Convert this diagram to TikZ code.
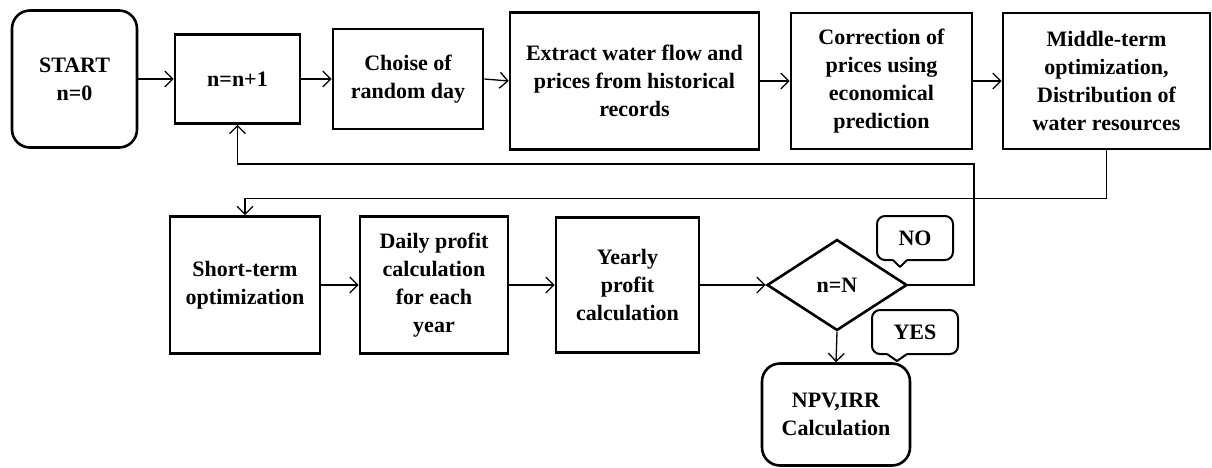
\documentclass[tikz,border=0pt]{standalone}
\usepackage{fontspec}
\setmainfont{Liberation Serif}
\usetikzlibrary{arrows.meta,shapes.geometric}
\begin{document}
\begin{tikzpicture}[x=1pt,y=-1pt,
  box/.style={draw, line width=2.6pt, align=center, inner sep=0pt,
    font=\fontsize{22}{28}\selectfont\bfseries},
  rbox/.style={box, rounded corners=18pt},
  arr/.style={-{Straight Barb[length=8pt,width=16pt,line width=1.3pt]}, line width=1.3pt},
  callout/.style={draw, line width=2pt},
  ctext/.style={font=\fontsize{22}{28}\selectfont\bfseries, inner sep=0pt}]
\useasboundingbox (0,0) rectangle (1212,468);
% top row
\node[rbox, minimum width=125pt, minimum height=137pt] (start) at (74.5,79) {START\\n=0};
\node[box, minimum width=125pt, minimum height=89pt] (n1) at (237.5,79) {n=n+1};
\node[box, minimum width=150pt, minimum height=100pt] (rand) at (408,79) {Choise of\\random day};
\node[box, minimum width=249pt, minimum height=137pt] (extr) at (634.5,81) {Extract water flow and\\prices from historical\\records};
\node[box, minimum width=181pt, minimum height=136pt] (corr) at (881.5,81) {Correction of\\prices using\\economical\\prediction};
\node[box, minimum width=207pt, minimum height=136pt] (mid) at (1106.5,81) {Middle-term\\optimization,\\Distribution of\\water resources};
% second row
\node[box, minimum width=150pt, minimum height=137pt] (short) at (245,285) {Short-term\\optimization};
\node[box, minimum width=148pt, minimum height=137pt] (daily) at (434,285) {Daily profit\\calculation\\for each\\year};
\node[box, minimum width=143pt, minimum height=135pt] (year) at (627.5,285) {Yearly\\profit\\calculation};
\node[box, diamond, aspect=1.54, minimum width=140pt, minimum height=91pt] (dec) at (837,285) {n=N};
\node[rbox, minimum width=148pt, minimum height=102pt] (npv) at (836,414.5) {NPV,IRR\\Calculation};
% callouts
\draw[callout, rounded corners=8pt] (893,260) -- (877,260) -- (877,216) -- (953,216) -- (953,260) -- (907,260);
\draw[callout, line join=round] (907,260) -- (900,267) -- (893,260);
\node[ctext] (no) at (915,238) {NO};
\draw[callout, rounded corners=8pt] (887,354) -- (872,354) -- (872,310) -- (958,310) -- (958,354) -- (907,354);
\draw[callout, line join=round] (907,354) -- (897,361) -- (887,354);
\node[ctext] (yes) at (915,332) {YES};
% connectors
\draw[arr] (start.east) -- (n1.west);
\draw[arr] (n1.east) -- (rand.west);
\draw[arr] (rand.east) -- (extr.west);
\draw[arr] (extr.east) -- (corr.west);
\draw[arr] (corr.east) -- (mid.west);
\draw[arr] (mid.south) -- ++(0,48) -| (short.north);
\draw[arr] (short.east) -- (daily.west);
\draw[arr] (daily.east) -- (year.west);
\draw[arr] (year.east) -- (dec.west);
\coordinate (loopR) at (974,164);
\draw[arr] (dec.east) -| (loopR) -| (n1.south);
\draw[arr] (dec.south) -- (npv.north);
\end{tikzpicture}
\end{document}
